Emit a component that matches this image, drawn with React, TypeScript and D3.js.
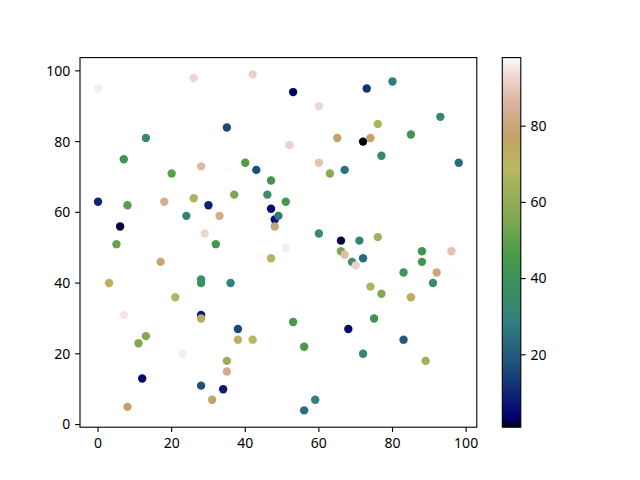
import React from "react";
import * as d3 from "d3";

const xs = [0, 26, 42, 53, 73, 80, 60, 35, 13, 52, 65, 72, 74, 76, 85, 93, 7, 28, 35, 40, 43, 20, 60, 63, 67, 77, 98, 47, 46, 37, 0, 8, 18, 26, 30, 51, 6, 24, 33, 32, 5, 29, 47, 48, 49, 48, 60, 66, 71, 76, 66, 67, 69, 70, 72, 51, 47, 88, 88, 96, 92, 97, 83, 91, 74, 77, 85, 17, 3, 28, 28, 36, 21, 7, 28, 28, 38, 38, 42, 53, 75, 68, 11, 13, 23, 56, 72, 83, 89, 35, 35, 12, 28, 34, 31, 8, 56, 59, 44];
const ys = [95, 98, 99, 94, 95, 97, 90, 84, 81, 79, 81, 80, 81, 85, 82, 87, 75, 73, 72, 74, 72, 71, 74, 71, 72, 76, 74, 69, 65, 65, 63, 62, 63, 64, 62, 63, 56, 59, 59, 51, 51, 54, 61, 58, 59, 56, 54, 52, 52, 53, 49, 48, 46, 45, 47, 50, 47, 49, 46, 49, 43, 43, 43, 40, 39, 37, 36, 46, 40, 41, 40, 40, 36, 31, 31, 30, 27, 24, 24, 29, 30, 27, 23, 25, 20, 22, 20, 24, 18, 18, 15, 13, 11, 10, 7, 5, 4, 7, 48];
const cs = [96, 93, 92, 3, 12, 28, 93, 16, 35, 92, 78, 1, 76, 67, 42, 33, 41, 87, 98, 47, 17, 49, 89, 58, 25, 35, 23, 43, 36, 55, 10, 49, 84, 66, 9, 44, 2, 31, 83, 44, 52, 93, 5, 7, 27, 79, 36, 2, 31, 64, 55, 88, 38, 92, 24, 96, 70, 42, 42, 89, 80, 98, 41, 35, 67, 57, 74, 79, 72, 37, 38, 29, 68, 95, 8, 76, 16, 72, 70, 45, 42, 5, 56, 57, 96, 45, 32, 19, 63, 62, 83, 5, 18, 8, 78, 78, 24, 29, 98];
const xTicks = [0, 20, 40, 60, 80, 100];
const yTicks = [0, 20, 40, 60, 80, 100];
const cTicks = [20, 40, 60, 80];

type Seg = [number, number][];
const RED: Seg = [[0, 0], [0.2824, 0.1882], [0.4588, 0.2714], [0.549, 0.4719], [0.698, 0.7176], [0.7882, 0.7553], [1, 0.9922]];
const GREEN: Seg = [[0, 0], [0.0275, 0], [0.1098, 0.1893], [0.1647, 0.3035], [0.2078, 0.3841], [0.2824, 0.502], [0.5216, 0.6397], [0.698, 0.7171], [0.7882, 0.6392], [0.7922, 0.6413], [0.8, 0.6447], [0.8078, 0.6481], [0.8157, 0.6549], [0.8667, 0.6991], [0.8745, 0.7103], [0.8824, 0.7216], [0.8902, 0.7323], [0.898, 0.743], [0.9412, 0.8275], [0.9569, 0.8635], [0.9647, 0.8816], [0.9961, 0.9733], [1, 0.9843]];
const BLUE: Seg = [[0, 0], [0.0039, 0.1684], [0.0078, 0.2212], [0.0275, 0.4329], [0.0314, 0.4549], [0.2824, 0.5004], [0.4667, 0.2748], [0.5451, 0.3205], [0.7843, 0.3961], [0.8941, 0.6651], [1, 0.9843]];

function seg(s: Seg, t: number) {
  const tt = Math.max(0, Math.min(1, t));
  for (let i = 1; i < s.length; i++) {
    if (tt <= s[i][0]) {
      const [x0, y0] = s[i - 1];
      const [x1, y1] = s[i];
      return y0 + ((tt - x0) / (x1 - x0 || 1)) * (y1 - y0);
    }
  }
  return s[s.length - 1][1];
}
function gistEarth(t: number) {
  return d3.rgb(seg(RED, t) * 255, seg(GREEN, t) * 255, seg(BLUE, t) * 255).formatHex();
}

const W = 640, H = 480;
const L = 80, R = 476.8, T = 57.6, B = 427.2;
const CBL = 502.3, CBR = 520.8;
const FONT = "'Noto Sans', 'DejaVu Sans', sans-serif";
const FS = 14;

export default function App() {
  const x = d3.scaleLinear().domain([-4.9, 102.9]).range([L, R]);
  const y = d3.scaleLinear().domain([-0.75, 103.75]).range([B, T]);
  const cMin = d3.min(cs) as number, cMax = d3.max(cs) as number;
  const cNorm = d3.scaleLinear().domain([cMin, cMax]).range([0, 1]);
  const cY = d3.scaleLinear().domain([cMin, cMax]).range([B, T]);
  const stops = d3.range(0, 129).map((i) => i / 128);
  const pts = xs.map((xv, i) => ({ x: xv, y: ys[i], c: cs[i] }));

  return (
    <svg width={W} height={H} style={{ position: "absolute", left: 0, top: 0, background: "#fff" }} fontFamily={FONT}>
      <defs>
        <linearGradient id="cbar" x1="0" y1="1" x2="0" y2="0">
          {stops.map((s) => (
            <stop key={s} offset={s} stopColor={gistEarth(s)} />
          ))}
        </linearGradient>
      </defs>
      <rect x={0} y={0} width={W} height={H} fill="#fff" />
      {pts.map((p, i) => (
        <circle key={i} cx={x(p.x)} cy={y(p.y)} r={4.2} fill={gistEarth(cNorm(p.c))} />
      ))}
      <rect x={L} y={T} width={R - L} height={B - T} fill="none" stroke="#000" strokeWidth={1.1} />
      {xTicks.map((t) => (
        <g key={"x" + t}>
          <line x1={x(t)} x2={x(t)} y1={B} y2={B + 4.9} stroke="#000" strokeWidth={1.1} />
          <text x={x(t)} y={B + 9.7} dy="0.8em" textAnchor="middle" fontSize={FS}>{t}</text>
        </g>
      ))}
      {yTicks.map((t) => (
        <g key={"y" + t}>
          <line x1={L - 4.9} x2={L} y1={y(t)} y2={y(t)} stroke="#000" strokeWidth={1.1} />
          <text x={L - 9.7} y={y(t)} dy="0.35em" textAnchor="end" fontSize={FS}>{t}</text>
        </g>
      ))}
      <rect x={CBL} y={T} width={CBR - CBL} height={B - T} fill="url(#cbar)" />
      <rect x={CBL} y={T} width={CBR - CBL} height={B - T} fill="none" stroke="#000" strokeWidth={1.1} />
      {cTicks.map((t) => (
        <g key={"c" + t}>
          <line x1={CBR} x2={CBR + 4.9} y1={cY(t)} y2={cY(t)} stroke="#000" strokeWidth={1.1} />
          <text x={CBR + 9.7} y={cY(t)} dy="0.35em" textAnchor="start" fontSize={FS}>{t}</text>
        </g>
      ))}
    </svg>
  );
}
